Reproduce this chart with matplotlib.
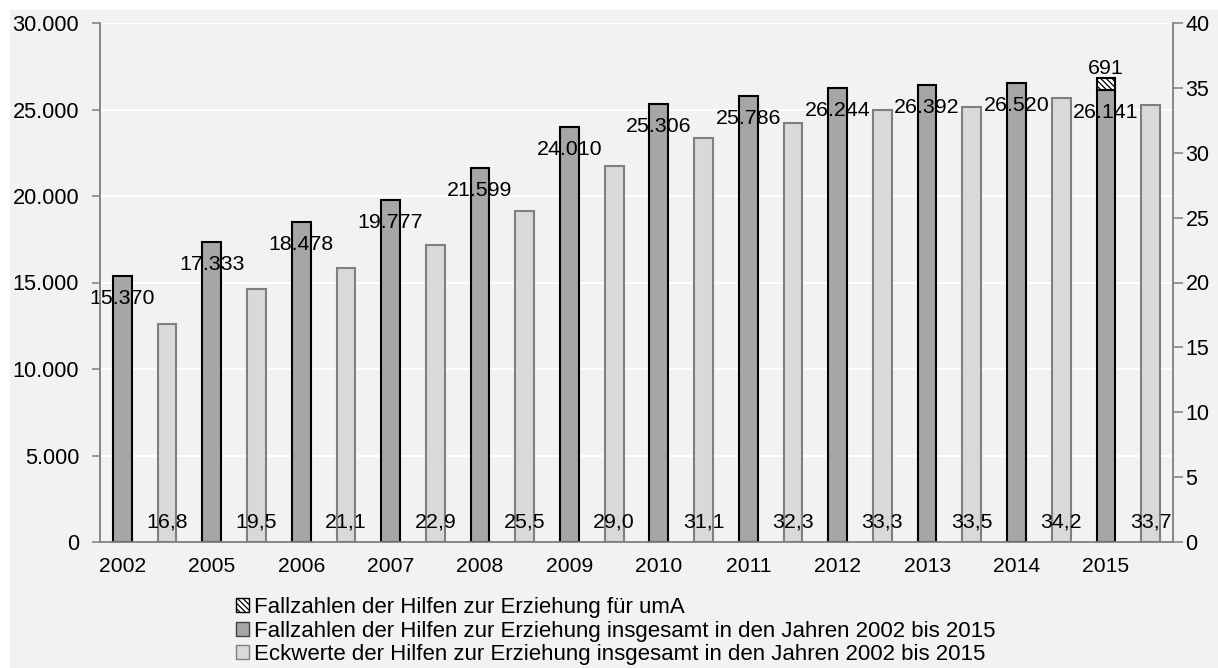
import numpy as np
import matplotlib
matplotlib.use("Agg")
import matplotlib.pyplot as plt
from matplotlib.patches import Rectangle, Patch
from matplotlib.ticker import FuncFormatter, FixedLocator

plt.rcParams['font.family'] = ['Liberation Sans', 'DejaVu Sans']

# Daten
jahre = ["2002", "2005", "2006", "2007", "2008", "2009", "2010",
         "2011", "2012", "2013", "2014", "2015"]
fallzahlen = [15370, 17333, 18478, 19777, 21599, 24010, 25306,
              25786, 26244, 26392, 26520, 26141]
fallzahlen_uma = [0, 0, 0, 0, 0, 0, 0, 0, 0, 0, 0, 691]
eckwerte = [16.8, 19.5, 21.1, 22.9, 25.5, 29.0, 31.1,
            32.3, 33.3, 33.5, 34.2, 33.7]

legende = ["Fallzahlen der Hilfen zur Erziehung für umA",
           "Fallzahlen der Hilfen zur Erziehung insgesamt in den Jahren 2002 bis 2015",
           "Eckwerte der Hilfen zur Erziehung insgesamt in den Jahren 2002 bis 2015"]

c_dunkel = '#a6a6a6'
c_hell = '#d9d9d9'
c_bg = '#f2f2f2'
c_achse = '#868686'
schraffur = '\\' * 6

def de_tausend(v, pos=None):
    return "{:,.0f}".format(v).replace(",", ".")

def de_komma(v):
    return "{:.1f}".format(v).replace(".", ",")

W, H = 1218, 668
fig = plt.figure(figsize=(W / 100, H / 100), dpi=100, facecolor='white')
fig.patches.append(Rectangle((10 / W, 0), 1, 1 - 10 / H, transform=fig.transFigure,
                             facecolor=c_bg, edgecolor='none', zorder=-10))

ax = fig.add_axes([100 / W, (H - 542) / H, (1173 - 100) / W, (542 - 23) / H])
ax.patch.set_alpha(0)
ax2 = ax.twinx()
ax2.patch.set_alpha(0)

n = len(jahre)
x_dunkel = np.arange(n) * 2
x_hell = np.arange(n) * 2 + 1
bw = 0.42

plt.rcParams['hatch.linewidth'] = 0.9
ax.bar(x_dunkel, fallzahlen, width=bw, color=c_dunkel, edgecolor='black', linewidth=1.5, zorder=3)
uma = np.array(fallzahlen_uma)
mask = uma > 0
ax.bar(x_dunkel[mask], uma[mask], bottom=np.array(fallzahlen)[mask], width=bw,
       color='white', edgecolor='black', hatch=schraffur, linewidth=1.5, zorder=3)
ax2.bar(x_hell, eckwerte, width=bw, color=c_hell, edgecolor='#7f7f7f', linewidth=1.5, zorder=3)

ax.set_xlim(-0.5, 2 * n - 0.5)
ax.set_ylim(0, 30000)
ax2.set_ylim(0, 40)
ax.yaxis.set_major_locator(FixedLocator(np.arange(0, 30001, 5000)))
ax.yaxis.set_major_formatter(FuncFormatter(de_tausend))
ax2.yaxis.set_major_locator(FixedLocator(np.arange(0, 41, 5)))
ax.grid(axis='y', color='white', linewidth=1.5, zorder=0)
ax.set_axisbelow(True)

# x-Achse: Striche an den Kategoriegrenzen, Beschriftung unter den dunklen Balken
ax.set_xticks(np.arange(-0.5, 2 * n, 1))
ax.set_xticklabels([])
ax.set_xticks(x_dunkel, minor=True)
ax.set_xticklabels(jahre, minor=True)
ax.tick_params(axis='x', which='major', direction='out', length=5, color=c_achse, width=1.2)
ax.tick_params(axis='x', which='minor', length=0, labelsize=15.2, pad=11)
ax.tick_params(axis='y', direction='out', length=6, color=c_achse, width=1.2, labelsize=15.7, pad=9)
ax2.tick_params(axis='y', direction='out', length=7, color=c_achse, width=1.2, labelsize=15.5, pad=2)
ax2.set_xticks([])

for a in (ax, ax2):
    a.spines['top'].set_visible(False)
    for s in ('left', 'right', 'bottom'):
        a.spines[s].set_color(c_achse)
        a.spines[s].set_linewidth(1.2)

# Datenbeschriftungen
for xi, v in zip(x_dunkel, fallzahlen):
    ax.annotate(de_tausend(v), (xi, v), xytext=(0, -22.5), textcoords='offset pixels',
                ha='center', va='center', fontsize=15.4, zorder=5)
for xi, v, u in zip(x_dunkel, fallzahlen, fallzahlen_uma):
    if u > 0:
        ax.annotate(de_tausend(u), (xi, v + u), xytext=(0, 9), textcoords='offset pixels',
                    ha='center', va='center', fontsize=15.4, zorder=5)
for xi, v in zip(x_hell, eckwerte):
    ax2.annotate(de_komma(v), (xi, 0), xytext=(0, 20), textcoords='offset pixels',
                 ha='center', va='center', fontsize=15.4, zorder=5)

handles = [Patch(facecolor='white', edgecolor='black', hatch=schraffur),
           Patch(facecolor=c_dunkel, edgecolor='#404040'),
           Patch(facecolor=c_hell, edgecolor='#7f7f7f')]
fig.legend(handles, legende, loc='upper left', bbox_to_anchor=(236 / W, (H - 597) / H),
           frameon=False, fontsize=16, handlelength=0.6, handleheight=0.6,
           handletextpad=0.2, labelspacing=0.115, borderpad=0, borderaxespad=0)

fig.savefig("out.png", dpi=100, facecolor=fig.get_facecolor())
